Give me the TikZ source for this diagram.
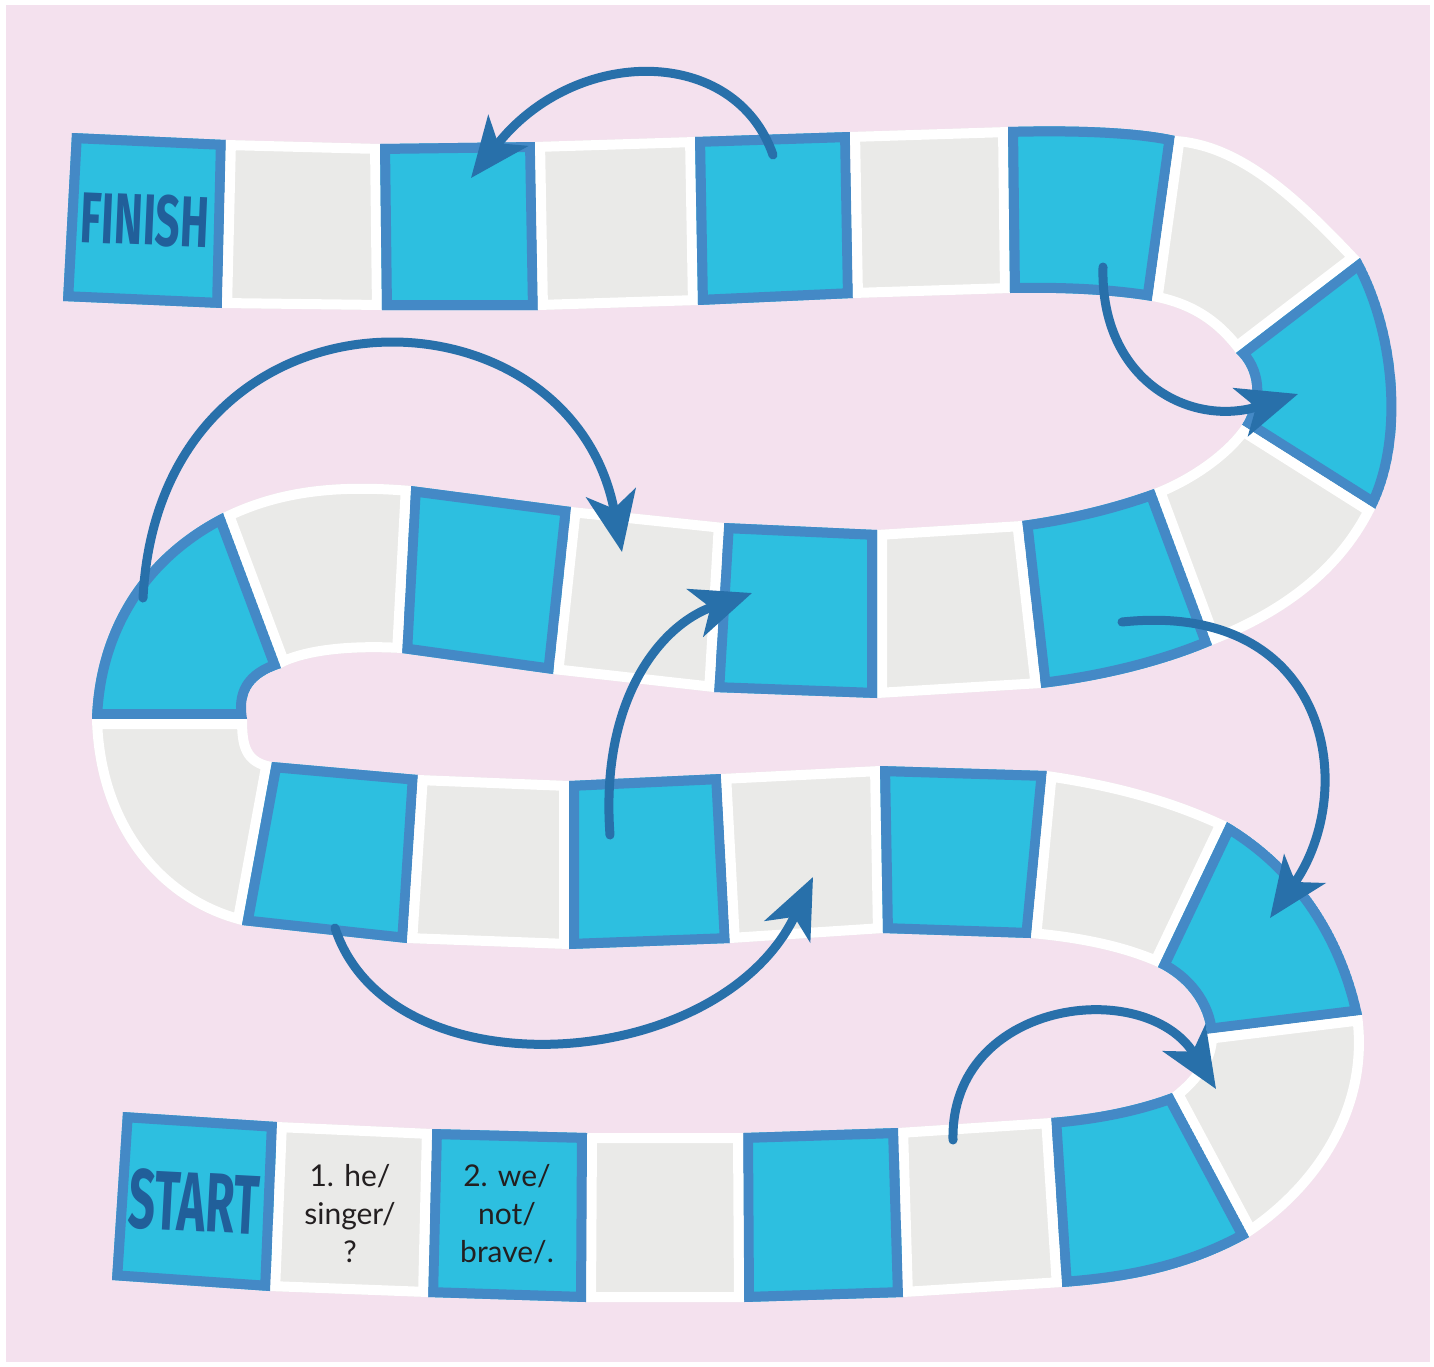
\documentclass[tikz,border=0pt]{standalone}
\usepackage{graphicx}
\usepackage{fontspec}
\setmainfont{Lato}
\newfontfamily\signfont{Fira Sans}
\usetikzlibrary{arrows.meta}

\definecolor{boardpink}{HTML}{F4E1EE}
\definecolor{tilecyan}{HTML}{2DBFE0}
\definecolor{tileblue}{HTML}{4489C6}
\definecolor{tilegray}{HTML}{EAEAE8}
\definecolor{jumpblue}{HTML}{2870AA}
\definecolor{signblue}{HTML}{215F9A}
\definecolor{cluetext}{HTML}{231F20}

\tikzset{
  bluetile/.style={fill=tilecyan, draw=tileblue, line width=10pt},
  graytile/.style={fill=tilegray, draw=white, line width=10pt},
  jump/.style={draw=jumpblue, line width=4.5pt, line cap=round,
    -{Stealth[length=30pt, width=25pt, inset=8pt]}},
  sign/.style={text=signblue, font=\signfont\bfseries\fontsize{36}{36}\selectfont},
  clue/.style={text=cluetext, align=center, font=\fontsize{15}{19}\selectfont}
}

% one square of the board: clip to it, fill it, border drawn inside
\newcommand{\boardtile}[2]{%
  \begin{scope}
    \clip #2;
    \path[#1] #2;
  \end{scope}}

\begin{document}
\begin{tikzpicture}[x=0.5pt, y=-0.5pt]
    \useasboundingbox (0,0) rectangle (1434,1366);
    \fill[white] (0,0) rectangle (1434,1366);
    \fill[boardpink] (6,5) rectangle (1430,1362);

    % Top row (finish)
    \boardtile{bluetile}{(72,133) -- (226,140) -- (222,308) -- (63,301) -- cycle}
    \boardtile{graytile}{(226,140) -- (380,144) -- (382,310) -- (222,308) -- cycle}
    \boardtile{bluetile}{(380,144) -- (535,142) -- (538,310) -- (382,310) -- cycle}
    \boardtile{graytile}{(535,142) -- (695,137) -- (698,305) -- (538,310) -- cycle}
    \boardtile{bluetile}{(695,137) -- (850,132) -- (853,298) -- (698,305) -- cycle}
    \boardtile{graytile}{(850,132) -- (1008,127) -- (1010,293) -- (853,298) -- cycle}
    \boardtile{bluetile}{(1008,127) .. controls (1080,125) and (1140,128) .. (1175,136) -- (1152,301) .. controls (1110,294) and (1060,292) .. (1010,293) -- cycle}

    % Right turn (top)
    \boardtile{graytile}{(1175,136) .. controls (1245,140) and (1305,200) .. (1360,258) -- (1236,353) .. controls (1215,325) and (1190,308) .. (1152,301) -- cycle}
    \boardtile{bluetile}{(1360,258) .. controls (1400,330) and (1410,440) .. (1375,509) -- (1242,425) .. controls (1258,400) and (1255,370) .. (1236,353) -- cycle}
    \boardtile{graytile}{(1375,509) .. controls (1345,570) and (1290,615) .. (1212,645) -- (1154,489) .. controls (1190,475) and (1225,450) .. (1242,425) -- cycle}

    % Second row
    \boardtile{bluetile}{(1154,489) .. controls (1110,505) and (1065,515) .. (1022,521) -- (1041,688) .. controls (1110,680) and (1170,663) .. (1212,645) -- cycle}
    \boardtile{graytile}{(877,530) -- (1022,521) -- (1041,688) -- (877,698) -- cycle}
    \boardtile{bluetile}{(724,523) -- (877,530) -- (877,698) -- (714,692) -- cycle}
    \boardtile{graytile}{(571,507) -- (724,523) -- (714,692) -- (553,674) -- cycle}
    \boardtile{bluetile}{(411,486) -- (571,507) -- (553,674) -- (402,653) -- cycle}
    \boardtile{graytile}{(223,513) .. controls (280,485) and (340,480) .. (411,486) -- (402,653) .. controls (350,650) and (305,655) .. (281,668) -- cycle}

    % Left turn
    \boardtile{bluetile}{(223,513) .. controls (140,555) and (95,630) .. (92,719) -- (247,719) .. controls (243,695) and (250,678) .. (281,668) -- cycle}
    \boardtile{graytile}{(92,719) .. controls (95,830) and (160,905) .. (242,925) -- (272,762) .. controls (250,758) and (247,745) .. (247,719) -- cycle}

    % Third row
    \boardtile{bluetile}{(272,762) -- (418,775) -- (407,943) -- (242,925) -- cycle}
    \boardtile{graytile}{(418,775) -- (569,781) -- (569,949) -- (407,943) -- cycle}
    \boardtile{bluetile}{(569,781) -- (721,774) -- (730,943) -- (569,949) -- cycle}
    \boardtile{graytile}{(721,774) -- (880,766) -- (883,933) -- (730,943) -- cycle}
    \boardtile{bluetile}{(880,766) -- (1047,771) -- (1031,938) -- (883,933) -- cycle}
    \boardtile{graytile}{(1047,771) .. controls (1110,780) and (1170,795) .. (1227,822) -- (1158,967) .. controls (1120,950) and (1075,942) .. (1031,938) -- cycle}

    % Right turn (bottom)
    \boardtile{bluetile}{(1227,822) .. controls (1300,865) and (1345,935) .. (1362,1015) -- (1207,1034) .. controls (1205,1005) and (1185,980) .. (1158,967) -- cycle}
    \boardtile{graytile}{(1207,1034) -- (1362,1015) .. controls (1375,1110) and (1320,1190) .. (1249,1237) -- (1172,1093) .. controls (1195,1075) and (1208,1055) .. (1207,1034) -- cycle}

    % Bottom row (start)
    \boardtile{bluetile}{(1051,1118) .. controls (1100,1114) and (1140,1105) .. (1172,1093) -- (1249,1237) .. controls (1190,1270) and (1130,1282) .. (1062,1287) -- cycle}
    \boardtile{graytile}{(898,1128) -- (1051,1118) -- (1062,1287) -- (903,1297) -- cycle}
    \boardtile{bluetile}{(743,1133) -- (898,1128) -- (903,1297) -- (744,1302) -- cycle}
    \boardtile{graytile}{(587,1133) -- (743,1133) -- (744,1302) -- (586,1302) -- cycle}
    \boardtile{bluetile}{(432,1129) -- (587,1133) -- (586,1302) -- (428,1297) -- cycle}
    \boardtile{graytile}{(277,1122) -- (432,1129) -- (428,1297) -- (270,1291) -- cycle}
    \boardtile{bluetile}{(123,1112) -- (277,1122) -- (270,1291) -- (112,1280) -- cycle}

    % Labels
    \node[sign, rotate=-2.5] (finish) at (145,220) {\scalebox{0.6}[1]{FINISH}};
    \node[sign, font=\signfont\bfseries\fontsize{42}{42}\selectfont, rotate=-3] (start) at (194,1202) {\scalebox{0.56}[1]{START}};
    \node[clue] (clueone) at (350,1214) {1. he/\\singer/\\?};
    \node[clue] (cluetwo) at (507,1214) {2. we/\\not/\\brave/.};

    % Arrow ends
    \coordinate (ladA) at (773,155);   \coordinate (ladAend) at (471,178);
    \coordinate (ladB) at (1103,267);  \coordinate (ladBend) at (1298,394);
    \coordinate (ladC) at (143,598);   \coordinate (ladCend) at (622,552);
    \coordinate (ladD) at (610,835);   \coordinate (ladDend) at (752,593);
    \coordinate (ladE) at (1122,622);  \coordinate (ladEend) at (1270,918);
    \coordinate (ladF) at (335,928);   \coordinate (ladFend) at (813,877);
    \coordinate (ladG) at (953,1140);  \coordinate (ladGend) at (1216,1089);

    % Draw arrows
    \draw[jump] (ladA) .. controls (735,45) and (575,45) .. (ladAend);
    \draw[jump] (ladB) .. controls (1100,380) and (1190,428) .. (ladBend);
    \draw[jump] (ladC) .. controls (160,270) and (570,275) .. (ladCend);
    \draw[jump] (ladD) .. controls (600,700) and (660,625) .. (ladDend);
    \draw[jump] (ladE) .. controls (1330,600) and (1360,790) .. (ladEend);
    \draw[jump] (ladF) .. controls (390,1095) and (720,1075) .. (ladFend);
    \draw[jump] (ladG) .. controls (950,1000) and (1145,975) .. (ladGend);
\end{tikzpicture}
\end{document}
